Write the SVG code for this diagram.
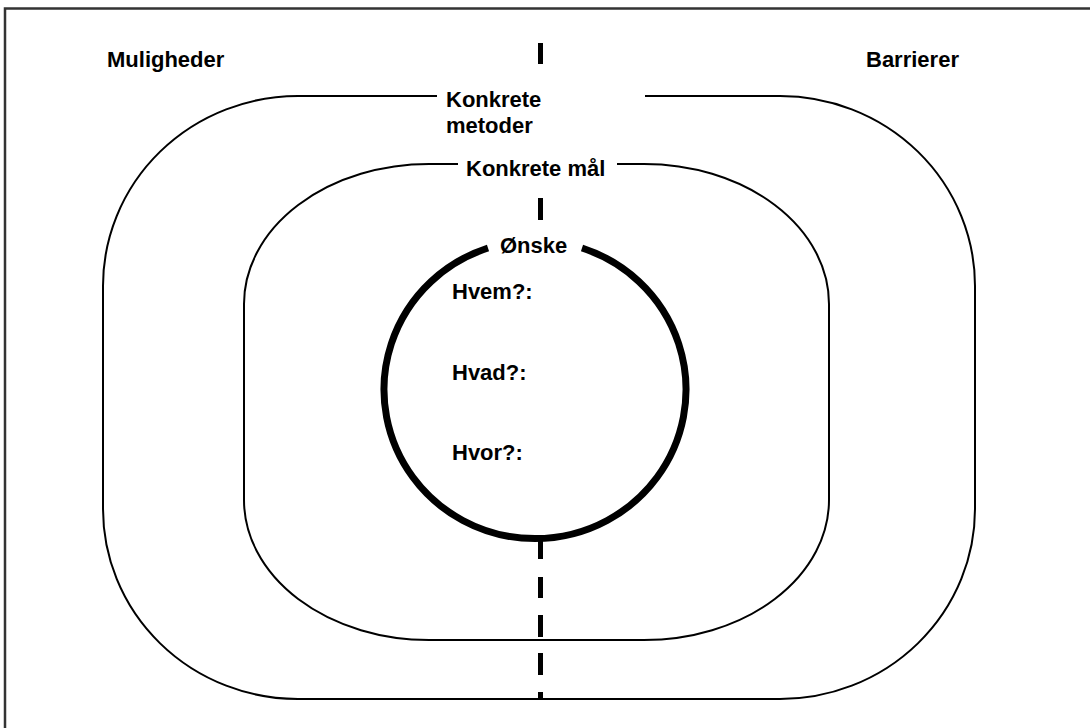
<svg xmlns="http://www.w3.org/2000/svg" width="1090" height="728" viewBox="0 0 1090 728">
<style>
  .lbl { font-family: "Liberation Sans", Arial, sans-serif; font-weight: bold; font-size: 22px; fill: #000; }
  .ring { fill: none; stroke: #000; stroke-width: 2; }
  .dash { stroke: #000; stroke-width: 5; fill: none; }
</style>
<rect x="0" y="0" width="1090" height="728" fill="#fff"/>
<rect x="5" y="8.5" width="1200" height="800" fill="none" stroke="#333" stroke-width="2.5"/>
<g id="connectors">
  <line class="dash" x1="540.5" y1="43" x2="540.5" y2="64"/>
  <line class="dash" x1="540.5" y1="198" x2="540.5" y2="220"/>
  <line class="dash" x1="540.5" y1="540" x2="540.5" y2="559"/>
  <line class="dash" x1="540.5" y1="577" x2="540.5" y2="598"/>
  <line class="dash" x1="540.5" y1="615" x2="540.5" y2="637"/>
  <line class="dash" x1="540.5" y1="653" x2="540.5" y2="675"/>
  <line class="dash" x1="540.5" y1="692" x2="540.5" y2="699"/>
</g>
<g id="muligheder">
  <text class="lbl" x="107" y="67">Muligheder</text>
</g>
<g id="barrierer">
  <text class="lbl" x="866" y="67">Barrierer</text>
</g>
<g id="konkrete-metoder">
  <path class="ring" d="M 645 96 H 780 A 195 190 0 0 1 975 286 V 509 A 195 190 0 0 1 780 699 H 298 A 195 190 0 0 1 103 509 V 286 A 195 190 0 0 1 298 96 H 437"/>
  <text class="lbl" x="446" y="107">Konkrete</text>
  <text class="lbl" x="446" y="133">metoder</text>
</g>
<g id="konkrete-maal">
  <path class="ring" d="M 617 164 H 644 A 185 140 0 0 1 829 304 V 500 A 185 140 0 0 1 644 640 H 429 A 185 140 0 0 1 244 500 V 304 A 185 140 0 0 1 429 164 H 458"/>
  <text class="lbl" x="466" y="176">Konkrete mål</text>
</g>
<g id="onske">
  <path d="M 582 248 A 151 149 0 1 1 488 248" fill="none" stroke="#000" stroke-width="7"/>
  <text class="lbl" x="500" y="253">Ønske</text>
  <text class="lbl" x="452" y="299">Hvem?:</text>
  <text class="lbl" x="452" y="380">Hvad?:</text>
  <text class="lbl" x="452" y="460">Hvor?:</text>
</g>
</svg>
